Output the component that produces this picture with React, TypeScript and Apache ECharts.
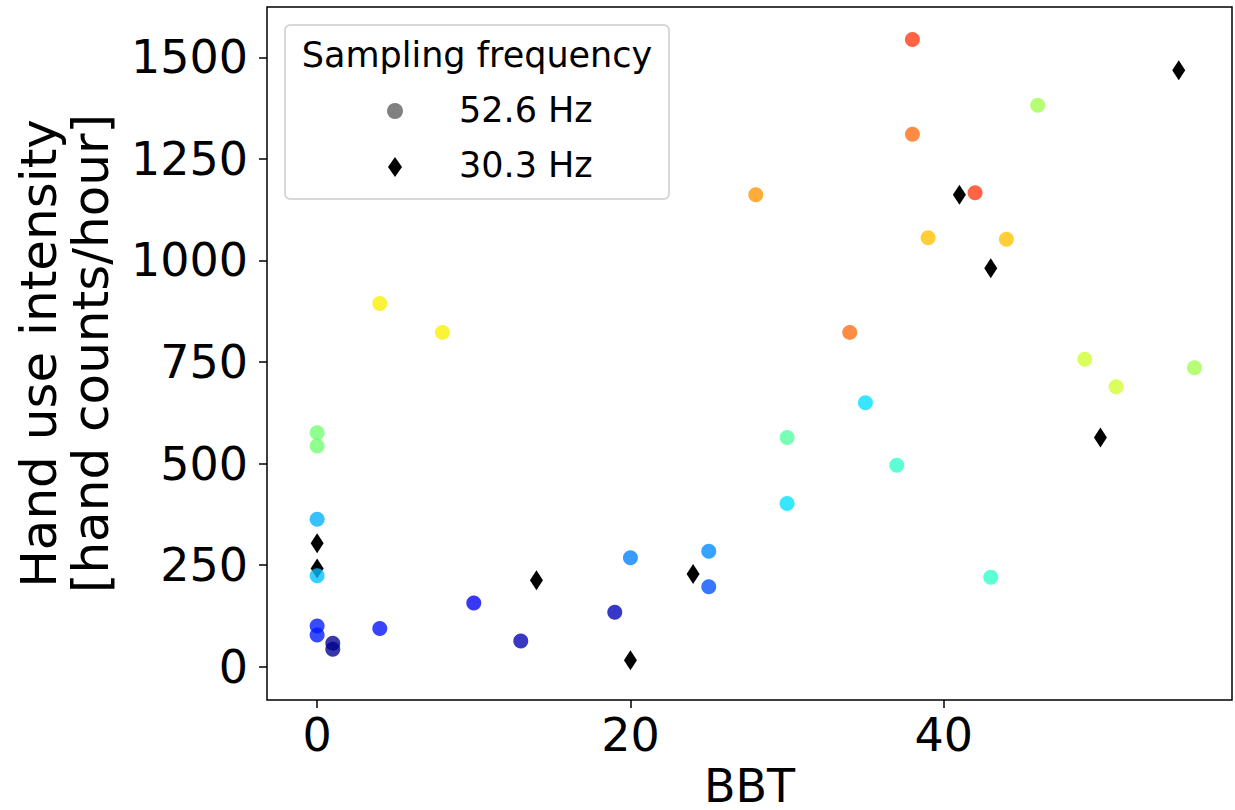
import React, { useEffect, useRef } from "react";
import * as echarts from "echarts";

// 52.6 Hz recordings (circles), colour-coded
const circleX = [0, 0, 0, 0, 1, 1, 4, 10, 13, 19, 20, 25, 25, 4, 8, 0, 0, 38, 46, 38, 28, 42, 39, 44, 34, 49, 51, 56, 35, 30, 37, 30, 43];
const circleY = [363, 224, 100, 78, 58, 43, 94, 157, 63, 134, 268, 284, 197, 894, 823, 576, 543, 1544, 1382, 1311, 1162, 1167, 1056, 1052, 823, 757, 689, 736, 650, 564, 496, 402, 220];
const circleColors = [
  "#00b0ff", "#00c0ff", "#0018ff", "#0018ff", "#000090", "#000090", "#0010ff", "#0000f0",
  "#0000b0", "#0000b8", "#0080ff", "#0088ff", "#0050ff", "#f8f000", "#f8f000", "#70ff70",
  "#70ff70", "#ff3a10", "#a0ff50", "#ff6a10", "#ff9500", "#ff3a10", "#ffc000", "#ffc000",
  "#ff6a10", "#d0ff30", "#d0ff30", "#a0ff50", "#00e0ff", "#50ffa0", "#30ffc8", "#00e0ff",
  "#30ffc8",
];
// 30.3 Hz recordings (diamonds)
const diamondX = [0, 0, 14, 20, 24, 41, 43, 50, 55];
const diamondY = [304, 242, 213, 16, 228, 1162, 981, 564, 1468];

const xTicks = [0, 20, 40];
const yTicks = [0, 250, 500, 750, 1000, 1250, 1500];
const legendTitle = "Sampling frequency";
const legendLabels = ["52.6 Hz", "30.3 Hz"];

const FONT = "'DejaVu Sans', sans-serif";

export default function App() {
  const ref = useRef<HTMLDivElement>(null);
  useEffect(() => {
    const chart = echarts.init(ref.current!, null, { renderer: "svg" });
    chart.setOption({
      animation: false,
      backgroundColor: "#ffffff",
      grid: {
        left: 267,
        right: 3,
        top: 7,
        bottom: 110,
        containLabel: false,
        outerBoundsMode: "none",
        show: true,
        borderColor: "#000000",
        borderWidth: 1.5,
        backgroundColor: "transparent",
      },
      xAxis: {
        type: "value",
        min: -3.2,
        max: 58.4,
        name: "BBT",
        nameLocation: "middle",
        nameGap: 60,
        nameTextStyle: { fontSize: 46, fontFamily: FONT, color: "#000" },
        axisLine: { show: false, onZero: false },
        axisTick: { show: true, inside: false, length: 8, lineStyle: { color: "#000", width: 1.5 }, customValues: xTicks },
        axisLabel: { customValues: xTicks, fontSize: 46, color: "#000", fontFamily: FONT, margin: 12, formatter: (v: number) => String(v) },
        splitLine: { show: false },
      },
      yAxis: {
        type: "value",
        min: -82,
        max: 1624,
        name: "Hand use intensity\n[hand counts/hour]",
        nameLocation: "middle",
        nameGap: 150,
        nameTextStyle: { fontSize: 50, fontFamily: FONT, color: "#000", lineHeight: 52 },
        axisLine: { show: false, onZero: false },
        axisTick: { show: true, inside: false, length: 8, lineStyle: { color: "#000", width: 1.5 }, customValues: yTicks },
        axisLabel: { customValues: yTicks, fontSize: 46, color: "#000", fontFamily: FONT, margin: 19, formatter: (v: number) => String(v) },
        splitLine: { show: false },
      },
      series: [
        {
          type: "scatter",
          name: legendLabels[1],
          data: diamondX.map((x, i) => [x, diamondY[i]]),
          symbol: "diamond",
          symbolSize: [13, 20],
          itemStyle: { color: "#000000", opacity: 1 },
          z: 2,
        },
        {
          type: "scatter",
          name: legendLabels[0],
          data: circleX.map((x, i) => ({ value: [x, circleY[i]], itemStyle: { color: circleColors[i] } })),
          symbol: "circle",
          symbolSize: 15,
          itemStyle: { opacity: 0.78 },
          z: 3,
        },
      ],
      graphic: [
        {
          type: "rect",
          shape: { x: 285, y: 25, width: 384, height: 174, r: 5 },
          style: { fill: "rgba(255,255,255,0.85)", stroke: "#cccccc", lineWidth: 1.5 },
          z: 10,
        },
        {
          type: "text",
          x: 477,
          y: 55,
          style: { text: legendTitle, fontSize: 35, fontFamily: FONT, fill: "#000", align: "center", verticalAlign: "middle" },
          z: 11,
        },
        {
          type: "circle",
          shape: { cx: 395, cy: 111, r: 8 },
          style: { fill: "#808080" },
          z: 11,
        },
        {
          type: "polygon",
          shape: { points: [[395, 157], [402, 167], [395, 177], [388, 167]] },
          style: { fill: "#000000" },
          z: 11,
        },
        {
          type: "text",
          x: 459,
          y: 110,
          style: { text: legendLabels[0], fontSize: 35, fontFamily: FONT, fill: "#000", align: "left", verticalAlign: "middle" },
          z: 11,
        },
        {
          type: "text",
          x: 459,
          y: 165,
          style: { text: legendLabels[1], fontSize: 35, fontFamily: FONT, fill: "#000", align: "left", verticalAlign: "middle" },
          z: 11,
        },
      ],
    });
    return () => chart.dispose();
  }, []);
  return <div ref={ref} style={{ position: "fixed", left: 0, top: 0, width: 1235, height: 810 }} />;
}
